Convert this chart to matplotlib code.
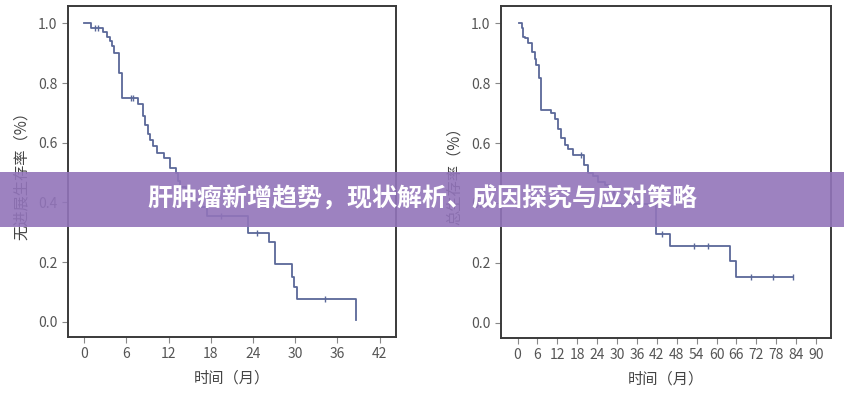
import matplotlib
matplotlib.use("Agg")
import matplotlib.pyplot as plt
from matplotlib.patches import Rectangle

plt.rcParams["font.family"] = ["Noto Sans CJK SC", "DejaVu Sans"]

# Curva PFS (pannello sinistro): tempi dei gradini e sopravvivenza
pfs_t = [0, 1.0, 2.7, 3.3, 3.7, 4.0, 4.3, 4.9, 5.0, 5.4, 7.7, 8.3, 8.7, 9.0, 9.4, 9.8,
         10.3, 11.4, 12.2, 13.0, 13.3, 13.6, 14.5, 15.5, 16.5, 17.5, 23.3, 26.3, 27.1,
         29.5, 29.8, 30.3, 38.6]
pfs_s = [1.0, 0.985, 0.97, 0.955, 0.94, 0.925, 0.90, 0.883, 0.833, 0.75, 0.728, 0.69,
         0.66, 0.63, 0.61, 0.59, 0.567, 0.55, 0.515, 0.50, 0.47, 0.45, 0.43, 0.41, 0.385,
         0.356, 0.298, 0.267, 0.192, 0.15, 0.115, 0.076, 0.005]
pfs_cens_t = [1.5, 2.0, 6.6, 7.0, 19.5, 24.6, 34.2]
pfs_cens_s = [0.985, 0.985, 0.75, 0.75, 0.356, 0.298, 0.076]

# Curva OS (pannello destro)
os_t = [0.5, 1.2, 1.5, 2.2, 3.2, 4.4, 5.2, 5.6, 6.5, 7.0, 10.0, 11.2, 12.2, 13.0, 14.3,
        15.3, 16.8, 20.1, 21.3, 22.8, 24.3, 26.3, 27.5, 29.0, 30.0, 41.7, 45.9, 64.0,
        65.8, 83.1]
os_s = [1.0, 0.983, 0.956, 0.95, 0.933, 0.906, 0.88, 0.861, 0.817, 0.709, 0.70, 0.68,
        0.646, 0.617, 0.595, 0.58, 0.561, 0.528, 0.50, 0.49, 0.47, 0.46, 0.445, 0.42,
        0.396, 0.295, 0.256, 0.206, 0.153, 0.153]
os_cens_t = [19.0, 43.5, 53.2, 57.3, 70.5, 77.1, 83.1]
os_cens_s = [0.561, 0.295, 0.256, 0.256, 0.153, 0.153, 0.153]

pfs_ticks = list(range(0, 43, 6))
os_ticks = list(range(0, 91, 6))
y_ticks = [0.0, 0.2, 0.4, 0.6, 0.8, 1.0]

title = "肝肿瘤新增趋势，现状解析、成因探究与应对策略"
line_color = "#5a6899"

fig = plt.figure(figsize=(8.45, 4.0), dpi=100)
ax1 = fig.add_axes([0.0805, 0.1575, 0.388, 0.8275])
ax2 = fig.add_axes([0.5929, 0.155, 0.3905, 0.83])


def draw_km(ax, t, s, ct, cs, xticks, xlim, ylabel):
    ax.step(t, s, where="post", color=line_color, lw=1.3)
    ax.plot(ct, cs, ls="none", marker="|", ms=5, mew=1.0, color=line_color)
    ax.set_xlim(*xlim)
    ax.set_ylim(-0.051, 1.058)
    ax.set_xticks(xticks)
    ax.set_yticks(y_ticks)
    ax.set_yticklabels([f"{v:.1f}" for v in y_ticks])
    for sp in ax.spines.values():
        sp.set_color("#3a3a3a")
        sp.set_linewidth(1.4)
    ax.tick_params(direction="out", length=4, width=0.8, color="#888888",
                   labelcolor="#555555", labelsize=10)
    ax.set_xlabel("时间（月）", fontsize=11, color="#444444", labelpad=6)
    ax.set_ylabel(ylabel, fontsize=11, color="#444444", labelpad=6)


draw_km(ax1, pfs_t, pfs_s, pfs_cens_t, pfs_cens_s, pfs_ticks, (-2.3, 44.3),
        "无进展生存率（%）")
draw_km(ax2, os_t, os_s, os_cens_t, os_cens_s, os_ticks, (-5.0, 94.5),
        "总生存率（%）")

# Banda del titolo
fig.patches.append(Rectangle((0, 0.4325), 1, 0.1375, transform=fig.transFigure,
                             facecolor="#9274ba", alpha=0.9, edgecolor="none", zorder=5))
fig.text(0.5, 0.502, title, ha="center", va="center", fontsize=18, fontweight="bold",
         color="white", zorder=6)

fig.savefig("out.png", dpi=100)
